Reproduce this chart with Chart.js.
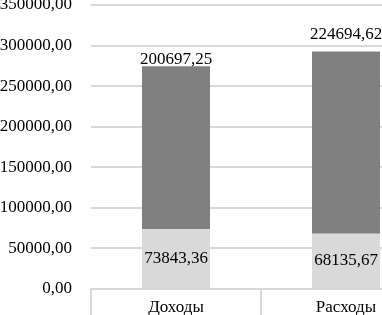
<!DOCTYPE html>
<html>
<head>
<meta charset="utf-8">
<script src="https://cdn.jsdelivr.net/npm/chart.js@4"></script>
<style>
    html, body { margin: 0; padding: 0; background: #fff; overflow: hidden; }
    #wrap { position: absolute; left: 0; top: 0; }
</style>
</head>
<body>
<div id="wrap"><canvas id="chart" width="440" height="320"></canvas></div>
<script>
// Data
const categories = ['Доходы', 'Расходы'];
const baseValues = [73843.36, 68135.67];
const topValues = [200697.25, 224694.62];
const yTicks = [0, 50000, 100000, 150000, 200000, 250000, 300000, 350000];

const fmt = v => v.toFixed(2).replace('.', ',');
const FONT = "'Liberation Serif', 'Times New Roman', serif";

// Value labels on the bars
const valueLabels = {
    id: 'valueLabels',
    afterDatasetsDraw(chart) {
        const ctx = chart.ctx;
        const lift = [2, 12];
        ctx.save();
        ctx.font = '17px ' + FONT;
        ctx.fillStyle = '#000';
        ctx.textAlign = 'center';
        chart.data.datasets.forEach((ds, di) => {
            chart.getDatasetMeta(di).data.forEach((bar, i) => {
                if (di === 0) {
                    ctx.textBaseline = 'middle';
                    ctx.fillText(fmt(ds.data[i]), bar.x, (bar.y + bar.base) / 2);
                } else {
                    ctx.textBaseline = 'alphabetic';
                    ctx.fillText(fmt(ds.data[i]), bar.x, bar.y - lift[i]);
                }
            });
        });
        ctx.restore();
    }
};

const ctx = document.getElementById('chart').getContext('2d');
const chart = new Chart(ctx, {
    type: 'bar',
    data: {
        labels: categories,
        datasets: [{
            data: baseValues,
            backgroundColor: '#d9d9d9',
            categoryPercentage: 1,
            barPercentage: 0.4
        }, {
            data: topValues,
            backgroundColor: '#808080',
            categoryPercentage: 1,
            barPercentage: 0.4
        }]
    },
    options: {
        responsive: false,
        animation: false,
        layout: { padding: { top: 5, left: 0, right: 9, bottom: 0 } },
        plugins: {
            legend: { display: false },
            tooltip: { enabled: false }
        },
        scales: {
            x: {
                stacked: true,
                offset: true,
                grid: {
                    offset: true,
                    drawOnChartArea: false,
                    drawTicks: true,
                    tickLength: 40,
                    color: '#d9d9d9',
                    lineWidth: 2
                },
                border: { display: true, color: '#d9d9d9', width: 2 },
                ticks: {
                    color: '#000',
                    padding: -32,
                    font: { family: FONT, size: 17 }
                },
                afterFit: s => { s.height = 31; }
            },
            y: {
                stacked: true,
                min: 0,
                max: 350000,
                afterBuildTicks: s => { s.ticks = yTicks.map(v => ({ value: v })); },
                grid: { color: '#d9d9d9', lineWidth: 2, drawTicks: false },
                border: { display: false },
                ticks: {
                    color: '#000',
                    padding: 19,
                    font: { family: FONT, size: 17 },
                    callback: v => fmt(v)
                },
                afterFit: s => { s.width = 91; s.paddingTop = 0; s.paddingBottom = 0; }
            }
        }
    },
    plugins: [valueLabels]
});
</script>
</body>
</html>
